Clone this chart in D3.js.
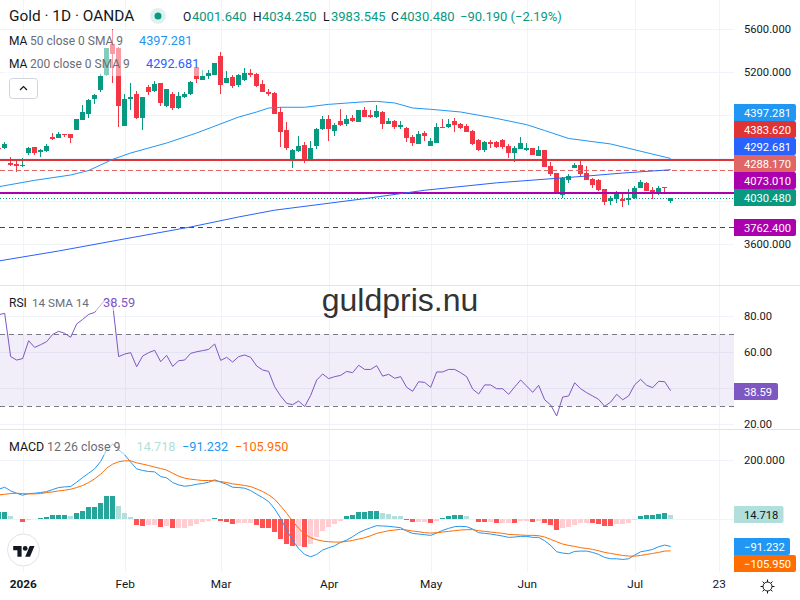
<!DOCTYPE html>
<html>
<head>
<meta charset="utf-8">
<style>
  html, body { margin: 0; padding: 0; background: #fff; }
  svg { display: block; font-family: Roboto, sans-serif; }
</style>
<script src="https://cdn.jsdelivr.net/npm/d3@7"></script>
</head>
<body>
<svg id="chart" width="800" height="600"></svg>
<script>
// Daily gold candles, oldest first.
const opens = [4495,4494.5,4352.1,4349,4324.3,4448.1,4500.7,4460.5,4466.7,4596.7,4590.5,4624.6,4621.5,4661.8,4754.7,4810.4,4946.6,5033.3,5172.7,5457.6,5420.4,4702,4952.8,4996.2,4773.2,5061.2,5024,5098.4,4884.7,4999.3,4863,4968.3,4996.2,5244,5126.2,5163.4,5172.7,5349.2,5098.4,5154.1,5079.8,5126.2,5188.2,5182,5089.1,5014.8,5005.5,4825.9,4661.8,4376.9,4463.6,4522.4,4383.1,4516.2,4674.2,4764,4652.4,4745.4,4717.5,4773.2,4736.1,4847.6,4801.1,4782.5,4829,4717.5,4745.4,4689.6,4680.3,4596.7,4531.7,4633.9,4513.1,4541,4689.6,4689.6,4745.4,4717.5,4699,4652.4,4568.9,4476,4550.3,4550.3,4568.9,4513.1,4448.1,4485.3,4476,4494.5,4420.2,4476,4327.3,4262.3,4057.9,4197.3,4308.8,4336.6,4262.3,4206.6,4197.3,4113.7,4002.2,4020.8,4020.8,4011.5,4030,4123,4169.4,4104.4,4067.2,4130,4001.64];
const highs = [4500,4550.3,4411,4389.3,4398.6,4503.8,4503.8,4485.3,4528.6,4637,4643.2,4624.6,4624.6,4760.8,4894,4946.6,4993,5185,5426.6,5600,5435.9,4993,5095.3,5021,4971.4,5082.9,5120,5098.4,5045.7,5017.9,5014.8,5014.8,5113.9,5250.1,5219.1,5219.1,5287.3,5386.3,5209.8,5172.7,5182,5237.7,5228.4,5188.2,5126.2,5042.6,5014.8,4872.3,4736.1,4485.3,4606,4550.3,4559.6,4677.2,4788.7,4801.1,4726.8,4856.8,4801.1,4801.1,4847.6,4872.3,4847.6,4894,4838.3,4773.2,4754.7,4745.4,4686.5,4615.3,4652.4,4652.4,4587.4,4726.8,4764,4764,4773.2,4726.8,4717.5,4661.8,4578.2,4559.6,4568.9,4559.6,4578.2,4531.7,4513.1,4596.7,4541,4494.5,4513.1,4476,4364.5,4262.3,4222.1,4253,4355.2,4383.1,4327.3,4216,4206.6,4113.7,4048.6,4095.1,4076.5,4113.7,4141.6,4197.3,4178.7,4132.3,4141.6,4132.3,4034.25];
const lows = [4475,4488.4,4330.4,4274.7,4315,4432.6,4429.5,4414,4460.5,4572,4587.4,4599.8,4541,4661.8,4754.7,4776.3,4906.4,5017.9,5163.4,5095.3,4686.5,4698.9,4847.6,4760.8,4661.8,4986.9,5017.9,4887.8,4878.5,4847.6,4856.8,4962.1,4990,5095.3,5126.2,5135.5,5172.7,4996.2,5098.4,5052,5064.3,5117,5154.1,5061.2,5014.8,4977.6,4810.4,4506.9,4476,4311.8,4457.4,4358.3,4376.9,4485.3,4661.8,4562.7,4606,4702,4698.9,4736.1,4736.1,4779.4,4770.1,4773.2,4671.1,4717.5,4671.1,4668,4550.3,4513.1,4531.7,4559.6,4513.1,4541,4680.3,4680.3,4643.2,4671.1,4643.2,4522.4,4466.7,4457.4,4494.5,4494.5,4485.3,4401.7,4364.5,4485.3,4466.7,4429.5,4420.2,4318,4234.4,4067.2,4030,4169.4,4308.8,4225.1,4197.3,4123,4095.1,3965,3965,3983.6,3946.5,3965,4020.8,4123,4095.1,4020.8,4058,4076.5,3983.545];
const closes = [4482,4534.8,4336.6,4324.3,4339.7,4494.5,4448.1,4476,4513.1,4581.3,4624.6,4612.2,4587.4,4760.8,4829,4937.3,4986.9,5166.5,5420.4,5367.8,4887.8,4949.7,4965.2,4770.1,4971.4,5017.9,5089.1,4912.6,5045.7,4863,4977.6,4999.3,5107.7,5132.4,5163.4,5194.4,5284.2,5079.8,5144.8,5070.5,5172.7,5191.3,5172.7,5070.5,5017.9,4999.3,4813.5,4646.3,4494.5,4476,4513.1,4383.1,4494.5,4671.1,4764,4674.2,4708.2,4708.2,4764,4745.4,4847.6,4782.5,4782.5,4838.3,4717.5,4745.4,4689.6,4708.2,4587.4,4541,4624.6,4606,4559.6,4689.6,4680.3,4717.5,4708.2,4680.3,4643.2,4531.7,4476,4550.3,4531.7,4503.8,4503.8,4448.1,4494.5,4541,4494.5,4429.5,4476,4318,4253,4067.2,4215.9,4234.4,4336.6,4253,4197.3,4150.8,4104.4,3993,4030,4085.8,4002.2,4030,4123,4178.7,4095.1,4067.2,4123,4120.67,4030.48];

// Moving averages, sampled at the listed bar numbers.
const ma50Bars = [0,6,12,15,19,22,28,33,40,43,45,47,51,55,61,63,66,69,72,77,83,88,91,95,102,112];
const ma50Values = [4135,4194.4,4243.7,4285.5,4389,4448,4541,4634,4782,4829,4866,4873,4873,4900,4924,4928,4913,4866,4854,4829,4769,4711,4657,4583,4532,4397.281];
const ma200Bars = [0,10,20,32,40,46,61,71,83,93,98,104,112];
const ma200Values = [3445,3538,3640,3761,3854,3917,4024,4102,4171,4213,4234,4262,4292.681];

// RSI(14), one reading per bar.
const rsiValues = [80.7,81.5,57.5,55.6,56.4,66.3,62.6,64.1,65.8,69.8,71.5,70.4,68.2,75.6,78.1,80.9,82,86.1,89.8,86.6,57.5,58.9,59.7,51.9,57.8,59.7,61,54.7,58.2,52.1,55.2,55.6,59.3,60.2,60.8,61.5,64.5,55.4,57.1,54.5,57.5,58.4,57.1,52.3,50.1,49.3,40.8,35.7,31.6,30.9,32.9,29.8,36,44.5,47.9,45.3,46.4,47.1,49.3,48.6,52.7,50.4,50.4,52.5,46.7,47.7,45.5,46.4,40.5,38.3,43.6,43.2,40.5,49,49,50.4,50.4,48.6,46.4,39.5,36.8,41.8,41.8,39.7,39.7,36.6,40.7,44.5,41.2,37.7,41.6,33.6,30.7,24.6,35.1,35.7,43,39.7,37.5,35.7,33.8,30,32.3,36.6,33.6,35.7,41.9,44.9,41.6,40.3,43.8,43.6,38.59];

// MACD(12, 26, 9): line, signal and histogram, one reading per bar.
const macdValues = [101,107.8,95.5,87.6,80.9,86.5,87.6,89.9,93.2,100,106.7,109,110.1,124.7,140.4,155,169.7,194.4,233.7,252.8,233.7,216.9,192.1,169.7,164,160.7,159.5,143.8,139.3,123.6,115.7,111.2,113.5,117.9,120.2,124.7,132.6,124.7,117.9,107.8,106.7,104.5,96.6,84.2,73,59.5,34.8,3.3,-36,-70.9,-97.9,-118.1,-126,-118.1,-103.5,-95.6,-88.9,-77.6,-69.8,-58.5,-45,-36,-28.2,-21.4,-22.5,-23.7,-25.9,-28.2,-39.4,-47.3,-49.5,-51.8,-54,-46.2,-37.2,-30.4,-24.8,-23.7,-24.8,-32.7,-45,-47.3,-49.5,-52.9,-56.3,-60.8,-59.6,-57.4,-57.4,-60.8,-60.8,-72,-87.7,-109.1,-113.6,-115.8,-108,-106.9,-106.9,-111.3,-118.1,-128.2,-132.7,-132.7,-135,-132.7,-120.3,-109.1,-105.7,-101.2,-92.2,-86.6,-91.232];
const signalValues = [82,84.2,86.5,87.6,86.5,85.4,85.4,86.5,89.9,92.1,95.5,97.7,101.1,106.7,113.5,123.6,135.9,151.7,171.9,185.4,193.3,196.6,196.6,189.9,185.4,180.9,175.3,170.8,165.2,155,144.9,138.2,134.8,132.6,130.3,130.3,129.2,126.9,123.6,119.1,116.8,113.5,110.1,102.2,93.2,82,67.4,44.9,20.2,-5.7,-30.4,-49.5,-61.9,-68.6,-73.1,-75.4,-76.5,-76.5,-74.3,-70.9,-66.4,-61.9,-55.1,-47.3,-42.8,-38.3,-36,-33.8,-36,-39.4,-41.7,-45,-46.2,-45,-42.8,-40.5,-38.3,-36,-34.9,-34.9,-38.3,-40.5,-42.8,-45,-47.3,-50.7,-51.8,-52.9,-54,-54,-55.1,-59.6,-67.5,-75.4,-83.2,-87.7,-91.1,-95.6,-97.9,-101.2,-105.7,-111.3,-114.7,-118.1,-121.5,-123.7,-123.7,-121.5,-118.1,-114.7,-111.3,-106.9,-105.95];
const histValues = [24.7,25.9,12.4,2.2,-7.9,-2.2,2.2,5.6,6.7,13.5,15.7,16,12.4,22.5,29.2,41.6,42.7,56.2,77.6,79.8,46.1,22.5,9,-18,-21.4,-20.2,-19,-24.7,-24.2,-30.3,-30,-29.8,-21.4,-14.6,-9,-5.6,5.6,-4.5,-7.9,-14.6,-13.5,-11.2,-11,-18,-28.1,-30.3,-43.8,-65.2,-82,-91,-90,-92.2,-82,-59.6,-38.2,-24.7,-14.6,-4.5,10.1,15.7,25.9,26.2,26.4,28.1,21.4,18,11.2,11,-2.2,-9,-8.8,-8.6,-12.4,-5.6,4.5,11.2,14.6,14.8,11.2,1.1,-9,-9.2,-9,-12.4,-12.2,-12,-12.4,-5.6,-5.4,-9,-5.6,-12.4,-19.1,-36,-29.2,-25.9,-19.1,-12.4,-12.2,-12.4,-15.7,-22.5,-22.7,-15.7,-15.5,-12.4,-2.2,11.2,14.6,14.8,18,21.4,14.718];

// Axis ticks.
const priceTicks = [5600,5200,4800,4400,4000,3600];
const priceLabelTicks = [5600,5200,3600];
const rsiTicks = [80,60,40,20];
const rsiBand = [70,30];
const macdTicks = [200,0];
const macdLabelTicks = [200];
const timeTickBars = [4,21,37,55,72,88,106,120];
const timeTickLabels = ['2026','Feb','Mar','Apr','May','Jun','Jul','23'];

// Horizontal levels drawn on the price pane.
const levelResistance = 4383.62;
const levelResistanceDashed = 4288.17;
const levelSupport = 4073.01;
const levelSupportDashed = 3762.4;
const lastClose = 4030.48;

const colors = {
  up: '#089981', down: '#f23645', grid: '#f0f3fa', sep: '#e0e3eb', text: '#131722', muted: '#6a6d78',
  ma50: '#2196f3', ma200: '#2962ff', red: '#e03434', redSoft: '#e06666', purple: '#ab00ad',
  rsi: '#7e57c2', macd: '#2196f3', signal: '#ff6d00',
  histUp: '#26a69a', histUpSoft: '#b2dfdb', histDown: '#ff5252', histDownSoft: '#ffcdd2'
};

const paneRight = 734;
const svg = d3.select('#chart');
const defs = svg.append('defs');
function clipFor(id, paneTop, paneBottom) {
  defs.append('clipPath').attr('id', id).append('rect')
    .attr('x', 0).attr('y', paneTop).attr('width', paneRight).attr('height', paneBottom - paneTop);
}
clipFor('clip-price', 0, 285);
clipFor('clip-rsi', 286, 429);
clipFor('clip-macd', 430, 572);

const x = d3.scaleLinear().domain([0, 120]).range([-1.33, 718.67]);
const yPrice = d3.scaleLinear().domain([3600, 5600]).range([244.3, 29]);
const yRsi = d3.scaleLinear().domain([20, 80]).range([424.3, 316]);
const yMacd = d3.scaleLinear().domain([0, 200]).range([519.3, 459.8]);

const crisp = v => Math.round(v) + 0.5;

// Grids
const gridLayer = svg.append('g');
gridLayer.append('g').selectAll('line').data(timeTickBars).join('line')
  .attr('x1', d => crisp(x(d))).attr('x2', d => crisp(x(d)))
  .attr('y1', 0).attr('y2', 572).attr('stroke', colors.grid);
function hGrid(scale, ticks) {
  const axis = d3.axisLeft(scale).tickValues(ticks).tickSize(paneRight).tickFormat('');
  const g = gridLayer.append('g').attr('transform', `translate(${paneRight},0)`).call(axis);
  g.select('.domain').remove();
  g.selectAll('line').attr('stroke', colors.grid).attr('shape-rendering', 'crispEdges');
}
hGrid(yPrice, priceTicks);
hGrid(yRsi, rsiTicks);
hGrid(yMacd, macdTicks);

// Pane separators
svg.append('g').selectAll('line').data([285, 429]).join('line')
  .attr('x1', 0).attr('x2', 800).attr('y1', d => d + 0.5).attr('y2', d => d + 0.5)
  .attr('stroke', colors.sep);

// Price pane
const pricePane = svg.append('g').attr('clip-path', 'url(#clip-price)');
function level(value, color, width, dash) {
  pricePane.append('line')
    .attr('x1', 0).attr('x2', paneRight)
    .attr('y1', width === 2 ? Math.round(yPrice(value)) : crisp(yPrice(value)))
    .attr('y2', width === 2 ? Math.round(yPrice(value)) : crisp(yPrice(value)))
    .attr('stroke', color).attr('stroke-width', width).attr('stroke-dasharray', dash || null);
}
level(lastClose, colors.up, 1, '1 2');

const candles = pricePane.append('g').attr('shape-rendering', 'crispEdges')
  .selectAll('g').data(d3.range(opens.length)).join('g')
  .attr('fill', i => closes[i] >= opens[i] ? colors.up : colors.down);
candles.append('rect')
  .attr('x', i => Math.floor(x(i)))
  .attr('width', 1)
  .attr('y', i => yPrice(highs[i]))
  .attr('height', i => yPrice(lows[i]) - yPrice(highs[i]));
candles.append('rect')
  .attr('x', i => Math.floor(x(i)) - 2)
  .attr('width', 5)
  .attr('y', i => yPrice(Math.max(opens[i], closes[i])))
  .attr('height', i => Math.max(1, Math.abs(yPrice(opens[i]) - yPrice(closes[i]))));

level(levelResistance, colors.red, 2);
level(levelResistanceDashed, colors.redSoft, 1, '5 3');
level(levelSupport, colors.purple, 2);
level(levelSupportDashed, colors.purple, 1, '5 4');

const maLine = d3.line().x(d => x(d[0])).y(d => yPrice(d[1]));
pricePane.append('path').attr('fill', 'none').attr('stroke', colors.ma50)
  .attr('d', maLine(d3.zip(ma50Bars, ma50Values)));
pricePane.append('path').attr('fill', 'none').attr('stroke', colors.ma200)
  .attr('d', maLine(d3.zip(ma200Bars, ma200Values)));

// RSI pane
const rsiPane = svg.append('g').attr('clip-path', 'url(#clip-rsi)');
rsiPane.append('rect').attr('x', 0).attr('width', paneRight)
  .attr('y', yRsi(rsiBand[0])).attr('height', yRsi(rsiBand[1]) - yRsi(rsiBand[0]))
  .attr('fill', colors.rsi).attr('fill-opacity', 0.1);
rsiPane.selectAll('line.band').data(rsiBand).join('line').attr('class', 'band')
  .attr('x1', 0).attr('x2', paneRight)
  .attr('y1', d => crisp(yRsi(d))).attr('y2', d => crisp(yRsi(d)))
  .attr('stroke', '#787b86').attr('stroke-dasharray', '5 4');
rsiPane.append('path').attr('fill', 'none').attr('stroke', colors.rsi)
  .attr('d', d3.line().x((d, i) => x(i)).y(d => yRsi(d))(rsiValues));

// MACD pane
const macdPane = svg.append('g').attr('clip-path', 'url(#clip-macd)');
function histColor(v, i) {
  const prev = i > 0 ? histValues[i - 1] : v;
  if (v >= 0) return v >= prev ? colors.histUp : colors.histUpSoft;
  return v <= prev ? colors.histDown : colors.histDownSoft;
}
macdPane.append('g').attr('shape-rendering', 'crispEdges')
  .selectAll('rect').data(histValues).join('rect')
  .attr('x', (d, i) => Math.floor(x(i)) - 2)
  .attr('width', 5)
  .attr('y', d => yMacd(Math.max(d, 0)))
  .attr('height', d => Math.abs(yMacd(d) - yMacd(0)))
  .attr('fill', histColor);
const macdLine = d3.line().x((d, i) => x(i)).y(d => yMacd(d));
macdPane.append('path').attr('fill', 'none').attr('stroke', colors.macd).attr('d', macdLine(macdValues));
macdPane.append('path').attr('fill', 'none').attr('stroke', colors.signal).attr('d', macdLine(signalValues));

// Washes behind the legends soften whatever runs underneath them
const washes = [[4, 30, 193, 22], [4, 52, 201, 24], [4, 293, 131, 18], [4, 437, 285, 18]];
svg.append('g').selectAll('rect').data(washes).join('rect')
  .attr('x', d => d[0]).attr('y', d => d[1]).attr('width', d => d[2]).attr('height', d => d[3])
  .attr('fill', '#fff').attr('fill-opacity', 0.5);

// Watermark
svg.append('text').attr('x', 400).attr('y', 311).attr('text-anchor', 'middle')
  .style('font-family', '"Liberation Sans", Arial, sans-serif').style('font-size', '32px')
  .attr('fill', '#333').text('guldpris.nu');

// Legend helper: a row of runs placed at fixed x positions
function row(y, size, runs) {
  const g = svg.append('g');
  runs.forEach(r => {
    g.append('text').attr('x', r.x).attr('y', y).style('font-size', (r.s || size) + 'px')
      .attr('fill', r.c).text(r.t);
  });
}
const num = d3.format('.3f');
const signed = v => (v < 0 ? '\u2212' : '') + num(Math.abs(v));
const lastO = opens[opens.length - 1], lastH = highs[highs.length - 1], lastL = lows[lows.length - 1], lastC = closes[closes.length - 1];
const prevClose = closes[closes.length - 2];
const pct = (lastC - prevClose) / prevClose * 100;

row(21, 15.4, [{ x: 9, c: colors.text, t: 'Gold \u00b7 1D \u00b7 OANDA' }]);
svg.append('circle').attr('cx', 158).attr('cy', 16).attr('r', 8).attr('fill', '#dff1ee');
svg.append('circle').attr('cx', 158).attr('cy', 16).attr('r', 3.5).attr('fill', colors.up);
row(21, 13, [
  { x: 183, c: colors.text, t: 'O', s: 12 }, { x: 192, c: colors.up, t: num(lastO) },
  { x: 253, c: colors.text, t: 'H', s: 12 }, { x: 262, c: colors.up, t: num(lastH) },
  { x: 323, c: colors.text, t: 'L', s: 12 }, { x: 331, c: colors.up, t: num(lastL) },
  { x: 391, c: colors.text, t: 'C', s: 12 }, { x: 400, c: colors.up, t: num(lastC) },
  { x: 460, c: colors.up, t: `${signed(lastC - prevClose)} (\u2212${d3.format('.2f')(Math.abs(pct))}%)` }
]);
row(45, 12, [
  { x: 9, c: colors.text, t: 'MA' }, { x: 30, c: colors.muted, t: '50 close 0 SMA 9' },
  { x: 139, c: colors.ma50, t: num(ma50Values[ma50Values.length - 1]), s: 12.7 }
]);
row(68, 12, [
  { x: 9, c: colors.text, t: 'MA' }, { x: 30, c: colors.muted, t: '200 close 0 SMA 9' },
  { x: 146, c: colors.ma200, t: num(ma200Values[ma200Values.length - 1]), s: 12.7 }
]);
row(307, 12, [
  { x: 9, c: colors.text, t: 'RSI' }, { x: 32, c: colors.muted, t: '14 SMA 14', s: 11.7 },
  { x: 103, c: colors.rsi, t: d3.format('.2f')(rsiValues[rsiValues.length - 1]), s: 12.8 }
]);
row(451, 12.4, [
  { x: 9, c: colors.text, t: 'MACD' }, { x: 47, c: colors.muted, t: '12 26 close 9' },
  { x: 136.5, c: colors.histUpSoft, t: num(histValues[histValues.length - 1]), s: 12.7 },
  { x: 182, c: colors.macd, t: signed(macdValues[macdValues.length - 1]), s: 12.7 },
  { x: 235, c: colors.signal, t: signed(signalValues[signalValues.length - 1]), s: 12.7 }
]);

// Collapse button
svg.append('rect').attr('x', 9.5).attr('y', 78.5).attr('width', 28).attr('height', 20).attr('rx', 3)
  .attr('fill', '#fff').attr('stroke', '#d1d4dc');
svg.append('path').attr('d', 'M20 90l3.5-3.5 3.5 3.5').attr('fill', 'none')
  .attr('stroke', colors.text).attr('stroke-width', 1.2);

// Logo badge
svg.append('circle').attr('cx', 23.5).attr('cy', 550).attr('r', 16).attr('fill', '#fff').attr('stroke', colors.sep);
const logo = svg.append('g').attr('transform', 'translate(13.2,543.6) scale(0.6)').attr('fill', colors.text);
logo.append('path').attr('d', 'M14 22H7V11H0V4h14v18zM28 22h-8l7.5-18h8L28 22z');
logo.append('circle').attr('cx', 20).attr('cy', 8).attr('r', 4);

// Value axes
function valueAxis(scale, ticks, fmt) {
  const g = svg.append('g').attr('transform', `translate(${paneRight},0)`)
    .call(d3.axisRight(scale).tickValues(ticks).tickFormat(fmt).tickSize(0).tickPadding(10));
  g.select('.domain').remove();
  g.attr('font-family', null).attr('font-size', null);
  g.selectAll('text').style('font-size', '11.2px').attr('fill', colors.text);
}
valueAxis(yPrice, priceLabelTicks, num);
valueAxis(yRsi, [80, 60, 20], d3.format('.2f'));
valueAxis(yMacd, macdLabelTicks, num);

// Time axis
const timeAxis = svg.append('g').attr('transform', 'translate(0,572)')
  .call(d3.axisBottom(x).tickValues(timeTickBars)
    .tickFormat((d, i) => timeTickLabels[i]).tickSize(0).tickPadding(8));
timeAxis.select('.domain').remove();
timeAxis.attr('font-family', null).attr('font-size', null);
timeAxis.selectAll('text').style('font-size', '11.8px').attr('fill', colors.text)
  .style('font-weight', (d, i) => i === 0 ? 'bold' : 'normal');

// Settings sun
const sun = svg.append('g').attr('transform', 'translate(767.5,586.5)')
  .attr('fill', 'none').attr('stroke', colors.text);
sun.append('circle').attr('r', 4.5);
sun.selectAll('line').data(d3.range(8)).join('line')
  .attr('x1', d => 4.5 * Math.cos(d * Math.PI / 4)).attr('y1', d => 4.5 * Math.sin(d * Math.PI / 4))
  .attr('x2', d => 7 * Math.cos(d * Math.PI / 4)).attr('y2', d => 7 * Math.sin(d * Math.PI / 4));

// Price tags on the right edge
function tag(y, text, fill, textFill, width) {
  const g = svg.append('g').attr('transform', `translate(${paneRight},${y})`);
  g.append('path')
    .attr('d', `M0 0H${width - 2}a2 2 0 0 1 2 2V15a2 2 0 0 1 -2 2H0Z`).attr('fill', fill);
  g.append('text').attr('x', 10).attr('y', 12.7).style('font-size', '11.2px')
    .attr('fill', textFill).text(text);
}
// Stacked bottom-up so the lowest tag stays on its own level.
const stackedTags = [
  [ma50Values[ma50Values.length - 1], colors.ma50],
  [levelResistance, colors.red],
  [ma200Values[ma200Values.length - 1], colors.ma200],
  [levelResistanceDashed, colors.redSoft],
  [levelSupport, colors.purple],
  [lastClose, colors.up]
];
let stackTop = Infinity;
stackedTags.slice().reverse().forEach(([v, col]) => {
  stackTop = Math.min(Math.round(yPrice(v) - 8.5), stackTop - 17);
  tag(stackTop, num(v), col, '#fff', 62);
});
tag(Math.round(yPrice(levelSupportDashed) - 8), num(levelSupportDashed), colors.purple, '#fff', 62);
tag(Math.round(yRsi(rsiValues[rsiValues.length - 1]) - 8), d3.format('.2f')(rsiValues[rsiValues.length - 1]), colors.rsi, '#fff', 44);
tag(Math.round(yMacd(histValues[histValues.length - 1]) - 8.5), num(histValues[histValues.length - 1]), colors.histUpSoft, colors.text, 49.5);
const macdTop = Math.round(yMacd(macdValues[macdValues.length - 1]) - 8.5);
tag(macdTop, signed(macdValues[macdValues.length - 1]), colors.macd, '#fff', 56);
tag(macdTop + 17, signed(signalValues[signalValues.length - 1]), colors.signal, '#fff', 62);
</script>
</body>
</html>
